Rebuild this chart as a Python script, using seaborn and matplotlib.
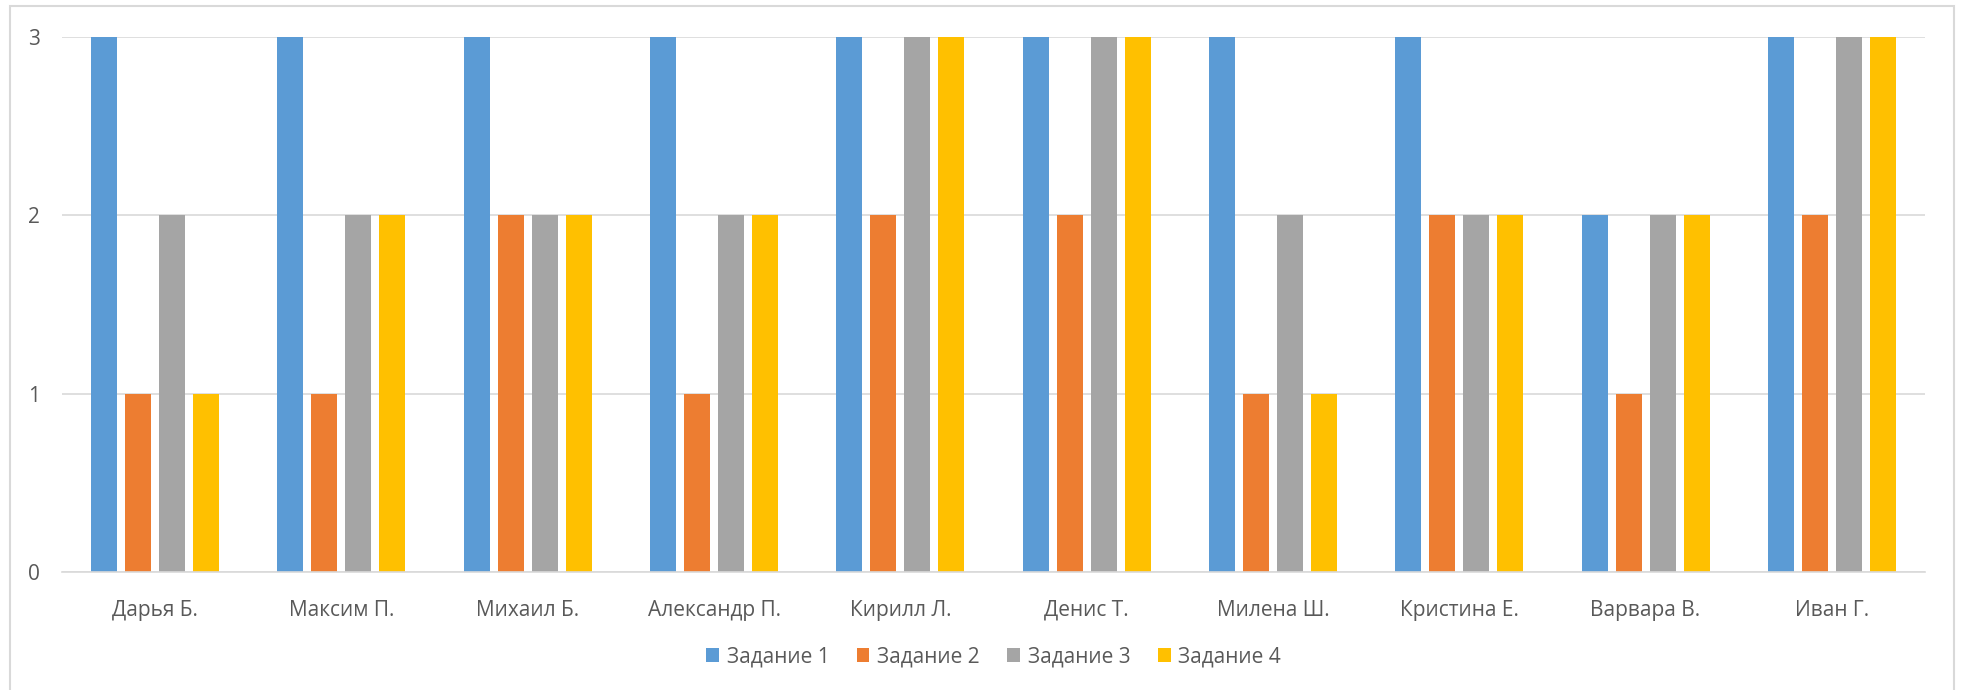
import pandas as pd
import matplotlib
matplotlib.use("Agg")
import matplotlib.pyplot as plt
import seaborn as sns
from matplotlib.patches import Rectangle

students = ["Дарья Б.", "Максим П.", "Михаил Б.", "Александр П.", "Кирилл Л.",
            "Денис Т.", "Милена Ш.", "Кристина Е.", "Варвара В.", "Иван Г."]
task1 = [3, 3, 3, 3, 3, 3, 3, 3, 2, 3]
task2 = [1, 1, 2, 1, 2, 2, 1, 2, 1, 2]
task3 = [2, 2, 2, 2, 3, 3, 2, 2, 2, 3]
task4 = [1, 2, 2, 2, 3, 3, 1, 2, 2, 3]
series_names = ["Задание 1", "Задание 2", "Задание 3", "Задание 4"]
colors = ["#5B9BD5", "#ED7D31", "#A5A5A5", "#FFC000"]

W, H = 1963, 690

sns.set_theme(style="white")
plt.rcParams["font.family"] = ["Open Sans", "DejaVu Sans"]

df = pd.DataFrame({"student": students, series_names[0]: task1, series_names[1]: task2,
                   series_names[2]: task3, series_names[3]: task4})
long_df = df.melt(id_vars="student", var_name="task", value_name="score")

fig = plt.figure(figsize=(W / 100, H / 100), dpi=100)
ax = fig.add_axes([62 / W, 1 - 572 / H, (1925 - 62) / W, (572 - 37) / H])

sns.barplot(data=long_df, x="student", y="score", hue="task", hue_order=series_names,
            palette=colors, width=0.73, gap=0.235, saturation=1, linewidth=0,
            ax=ax, legend=True)

ax.set_ylim(0, 3)
ax.set_xlim(-0.5, len(students) - 0.5)
ax.set_yticks([0, 1, 2, 3])
ax.yaxis.grid(True, color="#D9D9D9", linewidth=1.2)
ax.set_axisbelow(True)
for side in ["top", "right", "left"]:
    ax.spines[side].set_visible(False)
ax.spines["bottom"].set_color("#D9D9D9")
ax.spines["bottom"].set_linewidth(1.2)
ax.set_xlabel("")
ax.set_ylabel("")
ax.tick_params(axis="both", length=0, labelsize=15, colors="#595959")
ax.tick_params(axis="y", pad=16)
ax.tick_params(axis="x", pad=20)

ax.legend(loc="center", bbox_to_anchor=(0.5, -0.159), ncol=4, frameon=False,
          fontsize=15, handlelength=0.62, handleheight=0.62, handletextpad=0.38,
          columnspacing=1.3, labelcolor="#595959", borderpad=0)

# chart border
fig.patches.append(Rectangle((10 / W, -0.01), (1954 - 10) / W, 1.01 - 6 / H,
                             transform=fig.transFigure, fill=False,
                             edgecolor="#D9D9D9", linewidth=1.5))

fig.savefig("out.png", dpi=100)
